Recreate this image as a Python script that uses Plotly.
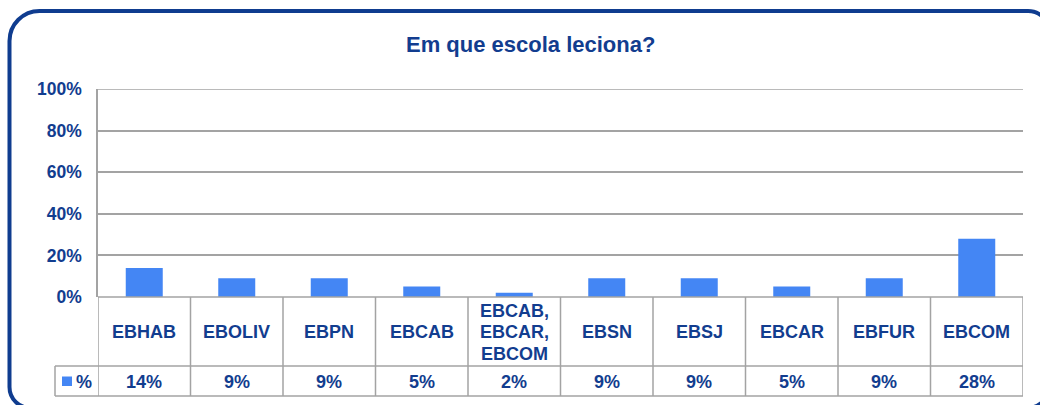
import plotly.graph_objects as go

# ---------------- data ----------------
title_text = "Em que escola leciona?"
categories = ["EBHAB", "EBOLIV", "EBPN", "EBCAB", "EBCAB, EBCAR, EBCOM",
              "EBSN", "EBSJ", "EBCAR", "EBFUR", "EBCOM"]
values = [14, 9, 9, 5, 2, 9, 9, 5, 9, 28]
series_name = "%"
y_tick_values = [0, 20, 40, 60, 80, 100]
y_tick_labels = ["0%", "20%", "40%", "60%", "80%", "100%"]

# ---------------- style / layout ----------------
W, H = 1040, 405
PL, PR, PT, PB = 98, 1023, 89, 297          # plot area in pixels
TEXT = "#123D8F"
BAR = "#4486F4"
GRID = "#A3A3A3"
BORDER = "#0F3C8F"
FONT = "Liberation Sans, Arial, sans-serif"


def px(x):
    return (x - PL) / (PR - PL)


def py(y):
    return (PB - y) / (PB - PT)


n = len(categories)
fig = go.Figure()
fig.add_trace(go.Bar(x=list(range(n)), y=values, width=0.4,
                     marker=dict(color=BAR, line=dict(width=0)),
                     name=series_name, showlegend=False,
                     hoverinfo="skip"))

shapes = []
annotations = []

# table geometry (pixels)
ROW1_TOP, ROW1_BOT, ROW2_BOT = 297, 366, 396
LEG_LEFT = 55
line = dict(color=GRID, width=1.5)

for i in range(n + 1):
    shapes.append(dict(type="line", xref="x", yref="paper",
                       x0=i - 0.5, x1=i - 0.5, y0=py(ROW1_TOP), y1=py(ROW2_BOT),
                       line=line, layer="above"))
shapes.append(dict(type="line", xref="paper", yref="paper",
                   x0=0, x1=1, y0=py(ROW1_TOP), y1=py(ROW1_TOP), line=line))
# top gridline (100%)
shapes.append(dict(type="line", xref="paper", yref="y",
                   x0=0, x1=1, y0=y_tick_values[-1], y1=y_tick_values[-1], line=line))
for yy in (ROW1_BOT, ROW2_BOT):
    shapes.append(dict(type="line", xref="paper", yref="paper",
                       x0=px(LEG_LEFT), x1=1, y0=py(yy), y1=py(yy), line=line))
shapes.append(dict(type="line", xref="paper", yref="paper",
                   x0=px(LEG_LEFT), x1=px(LEG_LEFT), y0=py(ROW1_BOT), y1=py(ROW2_BOT),
                   line=line))
# legend key
shapes.append(dict(type="rect", xref="paper", yref="paper",
                   x0=px(62), x1=px(72), y0=py(386), y1=py(376.5),
                   fillcolor=BAR, line=dict(width=0)))
annotations.append(dict(text=series_name, xref="paper", yref="paper",
                        x=px(74), y=py(381.5), xanchor="left", yanchor="middle",
                        showarrow=False,
                        font=dict(family=FONT, size=18, color=TEXT, weight="bold")))

# category labels and values
row1_mid = (ROW1_TOP + ROW1_BOT) / 2 + 0.5
row2_mid = (ROW1_BOT + ROW2_BOT) / 2 + 0.5
pitch = 21.5
for i, (cat, v) in enumerate(zip(categories, values)):
    lines = cat.replace(", ", ",\n").split("\n")
    k = len(lines)
    for j, t in enumerate(lines):
        yc = row1_mid + (j - (k - 1) / 2) * pitch
        annotations.append(dict(text=t, xref="x", yref="paper", x=i, y=py(yc),
                                xanchor="center", yanchor="middle", showarrow=False,
                                font=dict(family=FONT, size=18, color=TEXT,
                                          weight="bold")))
    annotations.append(dict(text=f"{v}%", xref="x", yref="paper", x=i, y=py(row2_mid),
                            xanchor="center", yanchor="middle", showarrow=False,
                            font=dict(family=FONT, size=18, color=TEXT, weight="bold")))

# title
annotations.append(dict(text=title_text, xref="paper", yref="paper",
                        x=px(530), y=py(44), xanchor="center", yanchor="middle",
                        showarrow=False,
                        font=dict(family=FONT, size=22, color=TEXT, weight="bold")))


# rounded border
def corner_path():
    x0, y0, x1, y1 = 9.5, 11, 1050, 408
    rtl, rtr, rbr, rbl = 30, 22, 23, 21
    k = 0.5523

    def P(x, y):
        return f"{px(x):.5f},{py(y):.5f}"

    d = f"M {P(x0, y0 + rtl)} "
    d += f"C {P(x0, y0 + rtl - k * rtl)} {P(x0 + rtl - k * rtl, y0)} {P(x0 + rtl, y0)} "
    d += f"L {P(x1 - rtr, y0)} "
    d += f"C {P(x1 - rtr + k * rtr, y0)} {P(x1, y0 + rtr - k * rtr)} {P(x1, y0 + rtr)} "
    d += f"L {P(x1, y1 - rbr)} "
    d += f"C {P(x1, y1 - rbr + k * rbr)} {P(x1 - rbr + k * rbr, y1)} {P(x1 - rbr, y1)} "
    d += f"L {P(x0 + rbl, y1)} "
    d += f"C {P(x0 + rbl - k * rbl, y1)} {P(x0, y1 - rbl + k * rbl)} {P(x0, y1 - rbl)} Z"
    return d


shapes.append(dict(type="path", xref="paper", yref="paper", path=corner_path(),
                   line=dict(color=BORDER, width=4), fillcolor="rgba(0,0,0,0)"))

fig.update_layout(
    width=W, height=H,
    margin=dict(l=PL, r=W - PR, t=PT, b=H - PB, autoexpand=False),
    paper_bgcolor="white", plot_bgcolor="white",
    bargap=0.6,
    showlegend=False,
    xaxis=dict(range=[-0.5, n - 0.5], showticklabels=False, showgrid=False,
               zeroline=False, showline=False, ticks=""),
    yaxis=dict(range=[0, 100], tickvals=y_tick_values, ticktext=y_tick_labels,
               showgrid=True, gridcolor=GRID, gridwidth=1.5,
               zeroline=False, showline=True, linecolor=GRID, linewidth=1.5,
               ticks="", ticklabelstandoff=11,
               tickfont=dict(family=FONT, size=17.5, color=TEXT, weight="bold")),
    shapes=shapes,
    annotations=annotations,
)

fig.write_html(
    "out.html",
    config={"displayModeBar": False},
    post_script="document.body.style.margin='0px';document.body.style.overflow='hidden';",
)
